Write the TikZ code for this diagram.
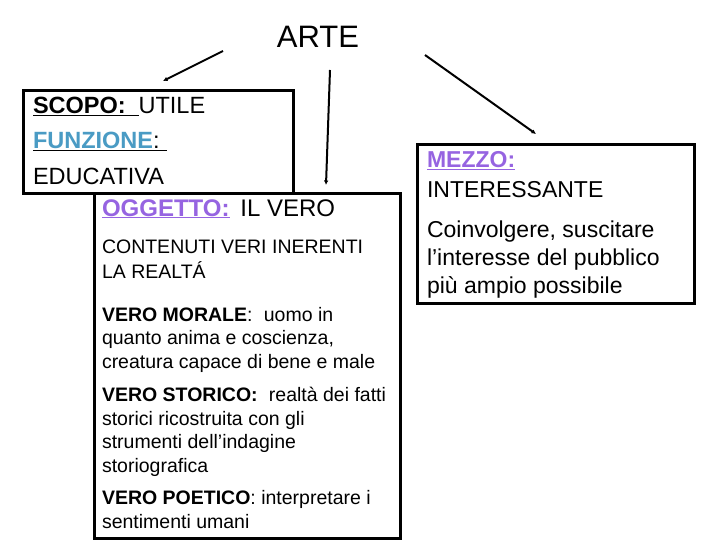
\documentclass[tikz,border=0pt]{standalone}
\usepackage{fontspec}
\setmainfont{Liberation Sans}
\usetikzlibrary{arrows.meta}
\definecolor{funzblue}{RGB}{74,155,196}
\definecolor{ogpurple}{RGB}{150,100,225}
\tikzset{
  boxframe/.style={draw=black, line width=3pt, fill=white, anchor=north west, inner sep=0pt},
  txt/.style={anchor=base west, inner sep=0pt, outer sep=0pt},
  conn/.style={line width=2pt, -{Latex[length=4.5pt,width=4.5pt]}},
}
\newcommand{\fa}{\fontsize{23.5}{27}\selectfont}
\newcommand{\fb}{\fontsize{19.5}{23.5}\selectfont}
\newcommand{\fc}{\fontsize{23}{28}\selectfont}
\begin{document}
\begin{tikzpicture}[x=1pt,y=-1pt]
\useasboundingbox[fill=white] (0,0) rectangle (720,540);
% title
\node[txt, anchor=base] (arte) at (318,48) {\fontsize{31}{36}\selectfont ARTE};
% boxes
\node[boxframe, minimum width=270pt, minimum height=103pt] (scopo) at (22,89) {};
\node[boxframe, minimum width=306pt, minimum height=345pt] (oggetto) at (93,192) {};
\node[boxframe, minimum width=277pt, minimum height=159pt] (mezzo) at (416,143) {};
% box 1 text
\node[txt] (t1) at (33,114) {\fa\underline{\textbf{SCOPO:}\hspace{0.55em}}UTILE};
\node[txt] (t2) at (33,149) {\fa\underline{\textbf{\textcolor{funzblue}{FUNZIONE}}:\hspace{0.3em}}};
\node[txt] (t3) at (33,185) {\fa EDUCATIVA};
% box 2 text
\node[txt] (o1) at (102,216) {\fontsize{24}{28}\selectfont\textcolor{ogpurple}{\underline{\textbf{OGGETTO:}}}\hspace{0.45em}IL VERO};
\node[txt] (o2) at (102,254) {\fb CONTENUTI VERI INERENTI};
\node[txt] (o3) at (102,278) {\fb LA REALTÁ};
\node[txt] (o4) at (102,321) {\fb\textbf{VERO MORALE}:\hspace{0.3em} uomo in};
\node[txt] (o5) at (102,344) {\fb quanto anima e coscienza,};
\node[txt] (o6) at (102,368) {\fb creatura capace di bene e male};
\node[txt] (o7) at (102,401) {\fb\textbf{VERO STORICO:}\hspace{0.3em} realtà dei fatti};
\node[txt] (o8) at (102,425) {\fb storici ricostruita con gli};
\node[txt] (o9) at (102,448) {\fb strumenti dell’indagine};
\node[txt] (o10) at (102,472) {\fb storiografica};
\node[txt] (o11) at (102,504) {\fb\textbf{VERO POETICO}: interpretare i};
\node[txt] (o12) at (102,528) {\fb sentimenti umani};
% box 3 text
\node[txt] (m1) at (427,168) {\fc\textcolor{ogpurple}{\underline{\textbf{MEZZO:}}}};
\node[txt] (m2) at (427,197) {\fc INTERESSANTE};
\node[txt] (m3) at (427,237) {\fc Coinvolgere, suscitare};
\node[txt] (m4) at (427,265) {\fc l’interesse del pubblico};
\node[txt] (m5) at (427,293) {\fc più ampio possibile};
% connectors
\coordinate (a1s) at (223,51);
\coordinate (a1e) at (163,81);
\coordinate (a2s) at (330,70);
\coordinate (a2e) at (326,185);
\coordinate (a3s) at (425,55);
\coordinate (a3e) at (536,134);
\draw[conn] (a1s) -- (a1e);
\draw[conn] (a2s) -- (a2e);
\draw[conn] (a3s) -- (a3e);
\end{tikzpicture}
\end{document}
